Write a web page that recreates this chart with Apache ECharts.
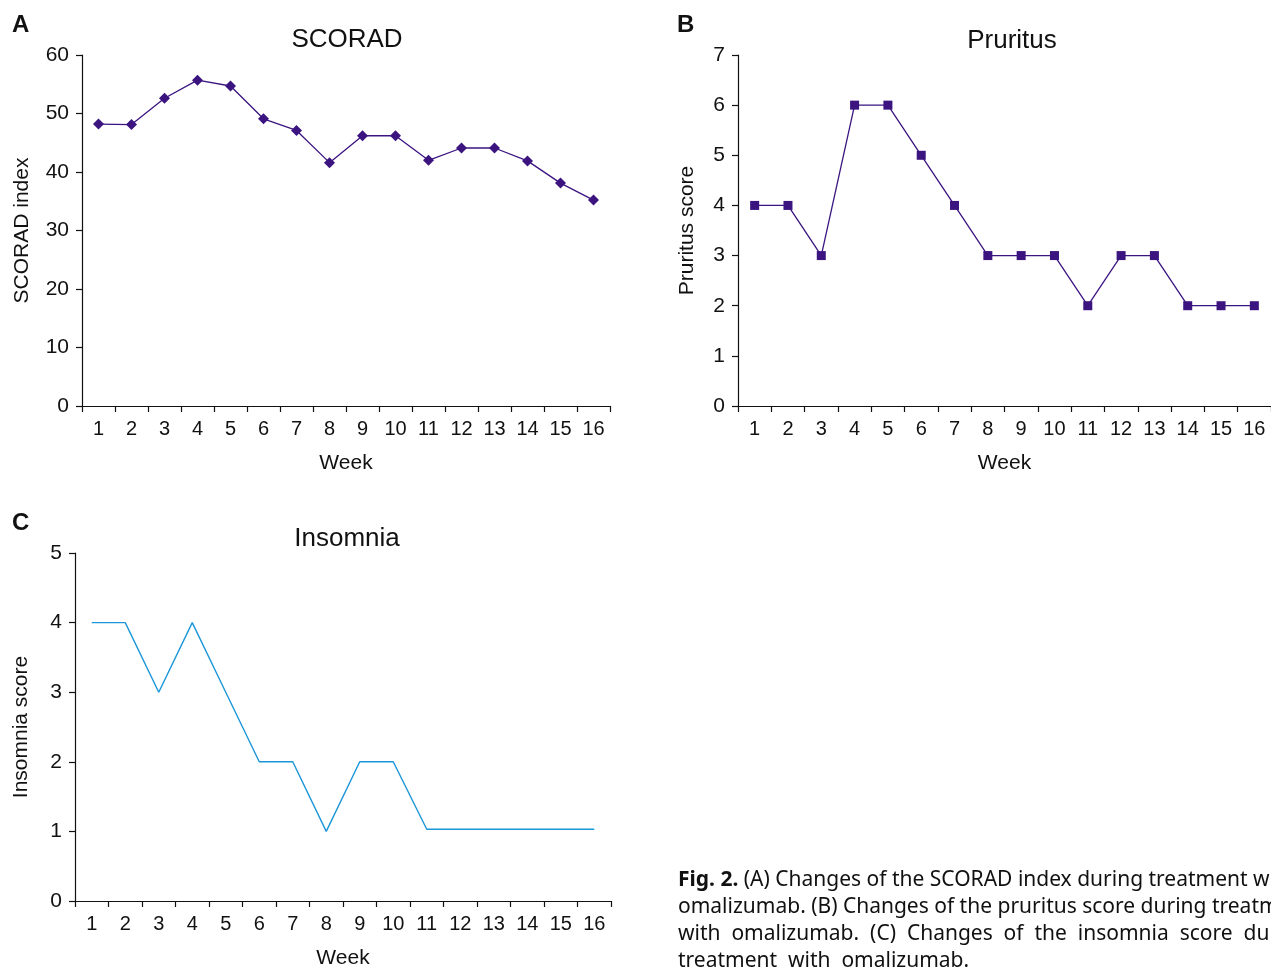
<!DOCTYPE html>
<html>
<head>
<meta charset="utf-8">
<script src="https://cdn.jsdelivr.net/npm/echarts@6/dist/echarts.min.js"></script>
<style>
  html, body { margin: 0; padding: 0; background: #fff; }
  #main { width: 1271px; height: 970px; }
</style>
</head>
<body>
<div id="main"></div>
<script>
const weeks = ['1', '2', '3', '4', '5', '6', '7', '8', '9', '10', '11', '12', '13', '14', '15', '16']
// values
const scorad = [48.2, 48.1, 52.6, 55.7, 54.7, 49.1, 47.1, 41.6, 46.2, 46.2, 42.0, 44.1, 44.1, 41.9, 38.1, 35.2]
const pruritus = [4, 4, 3, 6, 6, 5, 4, 3, 3, 3, 2, 3, 3, 2, 2, 2]
const insomnia = [4, 4, 3, 4, 3, 2, 2, 1, 2, 2, 1.03, 1.03, 1.03, 1.03, 1.03, 1.03]

const FONT = 'Liberation Sans'
const purple = '#3b1480'

const xAxisBase = (gridIndex) => ({
  type: 'category',
  gridIndex,
  data: weeks,
  boundaryGap: true,
  name: 'Week',
  nameLocation: 'middle',
  nameGap: 47,
  nameTextStyle: { fontFamily: FONT, fontSize: 21, color: '#111' },
  axisLine: { lineStyle: { color: '#111', width: 1.2 } },
  axisTick: { show: true, length: 6, lineStyle: { color: '#111', width: 1.2 } },
  axisLabel: { fontFamily: FONT, fontSize: 20, color: '#111', margin: 13, interval: 0 },
  splitLine: { show: false },
})

const yAxisBase = (gridIndex, name, max, interval, nameGap) => ({
  type: 'value',
  gridIndex,
  min: 0,
  max,
  interval,
  name,
  nameLocation: 'middle',
  nameGap,
  nameTextStyle: { fontFamily: FONT, fontSize: 21, color: '#111' },
  axisLine: { show: true, lineStyle: { color: '#111', width: 1.2 } },
  axisTick: { show: true, length: 6, lineStyle: { color: '#111', width: 1.2 } },
  axisLabel: { fontFamily: FONT, fontSize: 21, color: '#111', margin: 13 },
  splitLine: { show: false },
})

const titleFont = '26px "Liberation Sans"'
const letterFont = 'bold 24px "Liberation Sans Narrow", "Liberation Sans"'
const capFont = '21px "Noto Sans"'

const option = {
  backgroundColor: '#fff',
  animation: false,
  grid: [
    { left: 82, top: 55, width: 528, height: 351 },
    { left: 738, top: 55, width: 536, height: 351 },
    { left: 75, top: 553, width: 536, height: 352 },
  ],
  xAxis: [xAxisBase(0), xAxisBase(1), xAxisBase(2)],
  yAxis: [
    yAxisBase(0, 'SCORAD index', 60, 10, 49),
    yAxisBase(1, 'Pruritus score', 7, 1, 40),
    yAxisBase(2, 'Insomnia score', 5, 1, 43),
  ],
  series: [
    {
      type: 'line', xAxisIndex: 0, yAxisIndex: 0, data: scorad,
      symbol: 'diamond', symbolSize: 11,
      itemStyle: { color: purple },
      lineStyle: { color: purple, width: 1.3 },
    },
    {
      type: 'line', xAxisIndex: 1, yAxisIndex: 1, data: pruritus,
      symbol: 'rect', symbolSize: 9,
      itemStyle: { color: purple },
      lineStyle: { color: purple, width: 1.3 },
    },
    {
      type: 'line', xAxisIndex: 2, yAxisIndex: 2, data: insomnia,
      showSymbol: false, symbol: 'none',
      lineStyle: { color: '#1b96d8', width: 1.4 },
    },
  ],
  graphic: [
    { type: 'text', x: 347, y: 40, style: { text: 'SCORAD', font: titleFont, fill: '#111', align: 'center', verticalAlign: 'middle' } },
    { type: 'text', x: 1012, y: 41, style: { text: 'Pruritus', font: titleFont, fill: '#111', align: 'center', verticalAlign: 'middle' } },
    { type: 'text', x: 347, y: 539, style: { text: 'Insomnia', font: titleFont, fill: '#111', align: 'center', verticalAlign: 'middle' } },
    { type: 'text', x: 12, y: 25, style: { text: 'A', font: letterFont, fill: '#111', verticalAlign: 'middle' } },
    { type: 'text', x: 677, y: 25, style: { text: 'B', font: letterFont, fill: '#111', verticalAlign: 'middle' } },
    { type: 'text', x: 12, y: 523, style: { text: 'C', font: letterFont, fill: '#111', verticalAlign: 'middle' } },
    {
      type: 'text', x: 678, y: 880,
      style: {
        text: '{b|Fig. 2.} (A) Changes of the SCORAD index during treatment with',
        font: capFont, fill: '#111', verticalAlign: 'middle',
        rich: { b: { fontWeight: 'bold', fontFamily: 'Noto Sans', fontSize: 21 } },
      },
    },
    { type: 'text', x: 678, y: 907, style: { text: 'omalizumab. (B) Changes of the pruritus score during treatment', font: capFont, fill: '#111', verticalAlign: 'middle' } },
    { type: 'text', x: 678, y: 934, style: { text: 'with  omalizumab.  (C)  Changes  of  the  insomnia  score  during', font: capFont, fill: '#111', verticalAlign: 'middle' } },
    { type: 'text', x: 678, y: 961, style: { text: 'treatment  with  omalizumab.', font: capFont, fill: '#111', verticalAlign: 'middle' } },
  ],
}

const chart = echarts.init(document.getElementById('main'))
chart.setOption(option)
</script>
</body>
</html>
